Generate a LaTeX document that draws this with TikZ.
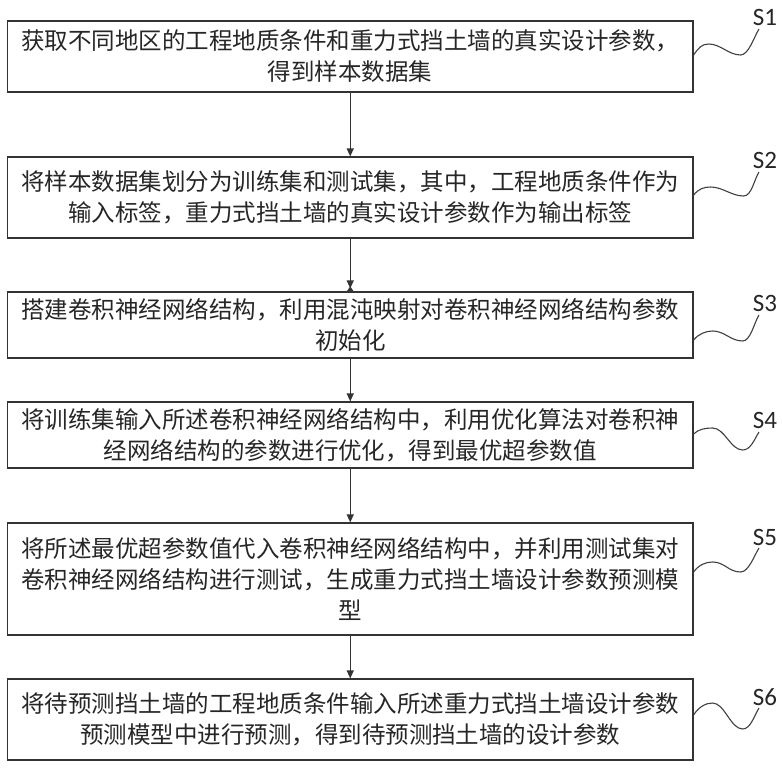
\documentclass[tikz,border=0pt]{standalone}
\usepackage{fontspec}
\newfontfamily\cjk{Noto Sans CJK SC}
\newfontfamily\labfont{Carlito}
\usetikzlibrary{arrows.meta,calc}
\begin{document}
\begin{tikzpicture}[x=1pt,y=-1pt,
  box/.style={draw=black!80, line width=1.2pt, rectangle, minimum width=685.5pt,
    align=center, inner sep=0pt, text=black!85, font=\cjk\fontsize{23.5}{31}\selectfont},
  arr/.style={draw=black!80, line width=1.2pt, -{Triangle[length=8pt,width=7pt]}},
  sq/.style={draw=black!75, line width=1.1pt},
  lab/.style={inner sep=0pt, text=black!85, font=\labfont\fontsize{25}{25}\selectfont}]
\useasboundingbox (0,0) rectangle (782,771);
\fill[white] (0,0) rectangle (782,771);

\node[box, minimum height=71pt] (b1) at (350.25,56.5)
  {获取不同地区的工程地质条件和重力式挡土墙的真实设计参数，\\得到样本数据集};
\node[box, minimum height=81pt] (b2) at (350.25,197.5)
  {将样本数据集划分为训练集和测试集，其中，工程地质条件作为\\输入标签，重力式挡土墙的真实设计参数作为输出标签};
\node[box, minimum height=66pt] (b3) at (350.25,325)
  {搭建卷积神经网络结构，利用混沌映射对卷积神经网络结构参数\\初始化};
\node[box, minimum height=66pt] (b4) at (350.25,435)
  {将训练集输入所述卷积神经网络结构中，利用优化算法对卷积神\\经网络结构的参数进行优化，得到最优超参数值};
\node[box, minimum height=112pt] (b5) at (350.25,579)
  {将所述最优超参数值代入卷积神经网络结构中，并利用测试集对\\卷积神经网络结构进行测试，生成重力式挡土墙设计参数预测模\\型};
\node[box, minimum height=81pt] (b6) at (350.25,719.5)
  {将待预测挡土墙的工程地质条件输入所述重力式挡土墙设计参数\\预测模型中进行预测，得到待预测挡土墙的设计参数};

\draw[arr] (b1.south) -- (b2.north);
\draw[arr, shorten >=3pt] (b2.south) -- (b3.north);
\fill[black!80] ([shift={(-3.5,0)}]b3.north) -- ([shift={(3.5,0)}]b3.north) -- ([shift={(0,-5)}]b3.north) -- cycle;
\draw[arr] (b3.south) -- (b4.north);
\draw[arr] (b4.south) -- (b5.north);
\draw[arr] (b5.south) -- (b6.north);

\node[lab] (s1) at (765,17) {S1};
\node[lab] (s2) at (765,160) {S2};
\node[lab] (s3) at (765,303) {S3};
\node[lab] (s4) at (765,420) {S4};
\node[lab] (s5) at (765,537) {S5};
\node[lab] (s6) at (765,697) {S6};

\draw[sq] ([shift={(0,-1.5)}]b1.east) .. controls +(5,-7) and +(-7,0) .. ++(15,-11)
  .. controls +(12,0) and +(-12,0) .. ++(32,11)
  .. controls +(8,0) and +(-5,8) .. ([shift={(-6,12)}]s1.center);
\draw[sq] ([shift={(0,-2.5)}]b2.east) .. controls +(5,-6) and +(-7,0) .. ++(17,-8)
  .. controls +(12,0) and +(-12,0) .. ++(33,9)
  .. controls +(8,0) and +(-5,8) .. ([shift={(-6,12)}]s2.center);
\draw[sq] ([shift={(0,15)}]b3.east) .. controls +(5,-6) and +(-7,0) .. ++(19,-9)
  .. controls +(12,0) and +(-12,0) .. ++(30,10)
  .. controls +(8,0) and +(-5,8) .. ([shift={(-6,12)}]s3.center);
\draw[sq] ([shift={(0,-1)}]b4.east) .. controls +(5,-5) and +(-7,0) .. ++(19,-6)
  .. controls +(12,0) and +(-12,0) .. ++(30,22)
  .. controls +(8,0) and +(-5,8) .. ([shift={(-6,12)}]s4.center);
\draw[sq] ([shift={(0,-7)}]b5.east) .. controls +(5,-7) and +(-7,0) .. ++(19,-10)
  .. controls +(12,0) and +(-12,0) .. ++(28,10)
  .. controls +(8,0) and +(-5,8) .. ([shift={(-6,11)}]s5.center);
\draw[sq] ([shift={(0,-4.5)}]b6.east) .. controls +(5,-8) and +(-7,0) .. ++(19,-12)
  .. controls +(12,0) and +(-12,0) .. ++(30,26)
  .. controls +(8,0) and +(-5,8) .. ([shift={(-6,11)}]s6.center);
\end{tikzpicture}
\end{document}
